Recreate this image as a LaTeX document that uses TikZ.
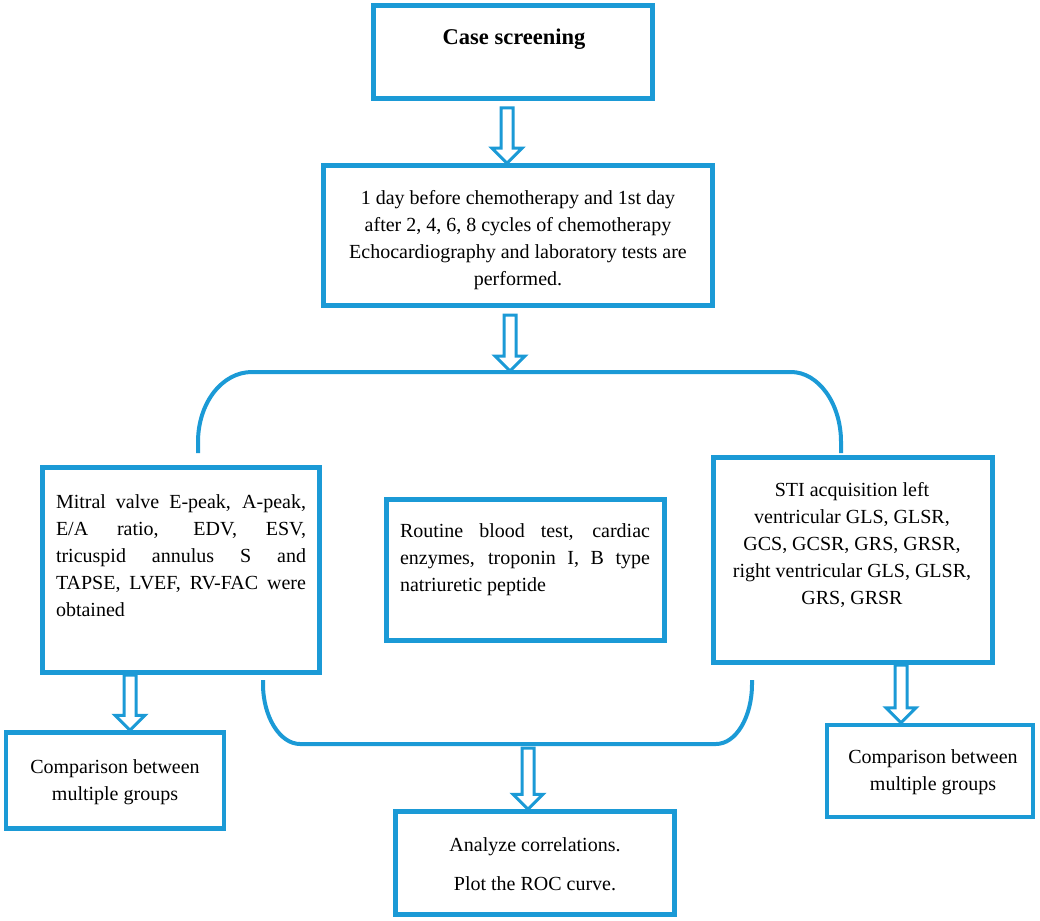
\documentclass[tikz,border=0pt]{standalone}
\usepackage{fontspec}
\setmainfont{Liberation Serif}
\usetikzlibrary{calc}
\definecolor{flowblue}{RGB}{27,154,214}
\tikzset{
  box/.style={draw=flowblue, line width=4.5pt, inner sep=0pt},
  txt/.style={font=\fontsize{20}{27}\selectfont, inner sep=0pt},
  bracket/.style={draw=flowblue, line width=4pt},
  arrowline/.style={draw=flowblue, line width=3pt, line join=miter},
}
\newcommand\hollowarrow[2]{%
  \draw[arrowline] let \p1=(#1), \p2=(#2) in
    (\x1-6pt,\y1) -- (\x1-6pt,\y2+15pt) -- (\x1-15pt,\y2+15pt) -- (\x1,\y2)
    -- (\x1+15pt,\y2+15pt) -- (\x1+6pt,\y2+15pt) -- (\x1+6pt,\y1) -- cycle;}
\begin{document}
\begin{tikzpicture}[x=1pt,y=-1pt]
\useasboundingbox (0,0) rectangle (1040,920);
\hyphenpenalty=10000
% boxes
\node[box, minimum width=279pt, minimum height=93pt] (b1) at (513,52) {};
\node[box, minimum width=389pt, minimum height=140pt] (b2) at (518,235.5) {};
\node[box, minimum width=277pt, minimum height=205pt] (bL) at (181,570) {};
\node[box, minimum width=278pt, minimum height=141pt] (bM) at (525.5,570) {};
\node[box, minimum width=279pt, minimum height=205pt] (bR) at (853,560) {};
\node[box, minimum width=218pt, minimum height=96pt] (bBL) at (115,780.5) {};
\node[box, minimum width=279pt, minimum height=103pt] (bBM) at (535,863) {};
\node[box, minimum width=206pt, minimum height=92pt] (bBR) at (930,771) {};
% texts
\node[txt, font=\fontsize{22.5}{27}\selectfont\bfseries] (t1) at (514,39) {Case screening};
\node[txt, align=center] (t2) at (518,240) {1 day before chemotherapy and 1st day\\after 2, 4, 6, 8 cycles of chemotherapy\\Echocardiography and laboratory tests are\\performed.};
\node[txt, text width=250pt, align=justify] (tL) at (181,556) {Mitral valve E-peak, A-peak,\linebreak E/A ratio, EDV, ESV,\linebreak tricuspid annulus S and\linebreak TAPSE, LVEF, RV-FAC were\linebreak obtained};
\node[txt, text width=250pt, align=justify] (tM) at (525,560) {Routine blood test, cardiac\linebreak enzymes, troponin I, B type\linebreak natriuretic peptide};
\node[txt, align=center] (tR) at (852,545) {STI acquisition left\\ventricular GLS, GLSR,\\GCS, GCSR, GRS, GRSR,\\right ventricular GLS, GLSR,\\GRS, GRSR};
\node[txt, align=center] (tBL) at (115,782) {Comparison between\\multiple groups};
\node[txt, align=center] (tBR) at (933,772) {Comparison between\\multiple groups};
\node[txt, align=center] (tBM) at (535,864) {Analyze correlations.\\[12pt]Plot the ROC curve.};
% bracket end points
\coordinate (tl) at (198,453);
\coordinate (tr) at (841,453);
\coordinate (bl) at (263,680);
\coordinate (br) at (752,680);
\draw[bracket] (tl) -- (198,442) .. controls (198,403) and (222,372) .. (252,372)
  -- (791,372) .. controls (818,372) and (841,403) .. (841,442) -- (tr);
\draw[bracket] (bl) -- (263,684) .. controls (263,717) and (280,744) .. (300,744)
  -- (716,744) .. controls (736,744) and (752,717) .. (752,684) -- (br);
% arrow start points
\coordinate (a1) at (507,108);
\coordinate (a2) at (510,315);
\coordinate (a3) at (130,675);
\coordinate (a4) at (528,748);
\coordinate (a5) at (901,665);
\coordinate (k2) at (510,371);
\hollowarrow{a1}{a1 |- b2.north}
\hollowarrow{a2}{k2}
\hollowarrow{a3}{a3 |- bBL.north}
\hollowarrow{a4}{a4 |- bBM.north}
\hollowarrow{a5}{a5 |- bBR.north}
\end{tikzpicture}
\end{document}
